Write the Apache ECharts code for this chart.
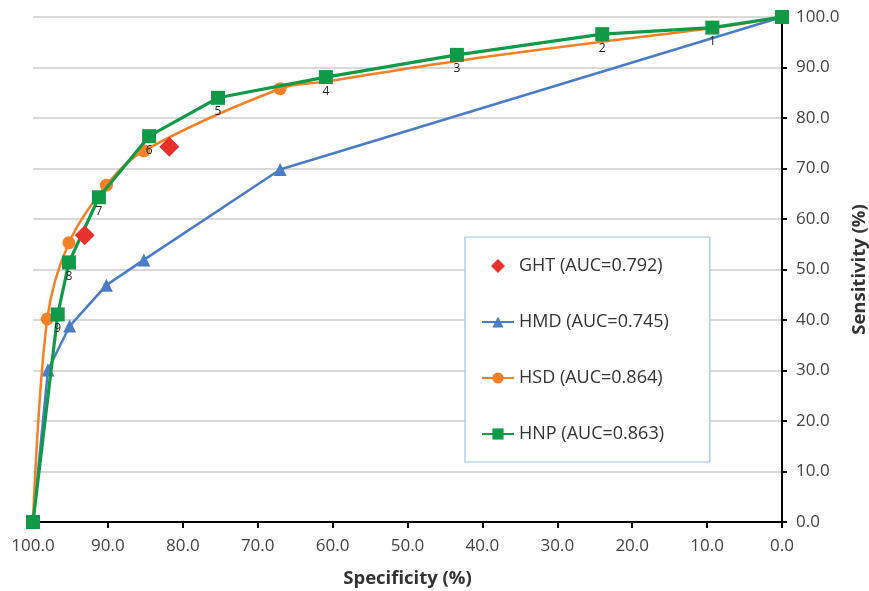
<!DOCTYPE html>
<html>
<head>
<meta charset="utf-8">
<script src="https://cdn.jsdelivr.net/npm/echarts@6/dist/echarts.min.js"></script>
<style>html,body{margin:0;padding:0;background:#fff;}#chart{width:869px;height:591px;}</style>
</head>
<body>
<div id="chart"></div>
<script>
// Data (specificity %, sensitivity %)
var ghtSpec = [93.1, 81.8];
var ghtSens = [56.8, 74.3];

var hmdSpec = [100, 98.0, 95.1, 90.2, 85.2, 67.0, 0];
var hmdSens = [0, 30.1, 38.8, 46.9, 51.9, 69.8, 100];

var hsdSpec = [100, 98.1, 95.2, 90.2, 85.2, 67.0, 60.9, 43.4, 24.0, 9.3, 0];
var hsdSens = [0, 40.2, 55.3, 66.7, 73.5, 85.8, 87.2, 91.3, 95.1, 97.8, 100];
var hsdMarker = [false, true, true, true, true, true, false, false, false, false, false];

var hnpSpec = [100, 96.7, 95.2, 91.2, 84.5, 75.3, 60.9, 43.4, 24.0, 9.3, 0];
var hnpSens = [0, 41.1, 51.4, 64.3, 76.4, 84.0, 88.1, 92.5, 96.6, 97.9, 100];
var hnpLabels = ['', '9', '8', '7', '6', '5', '4', '3', '2', '1', ''];

var seriesNames = ['GHT (AUC=0.792)', 'HMD (AUC=0.745)', 'HSD (AUC=0.864)', 'HNP (AUC=0.863)'];
var xAxisName = 'Specificity (%)';
var yAxisName = 'Sensitivity (%)';

function pairs(xs, ys) { return xs.map(function (x, i) { return [x, ys[i]]; }); }

var FONT = 'Open Sans';
var chart = echarts.init(document.getElementById('chart'));
chart.setOption({
  animation: false,
  backgroundColor: '#fff',
  textStyle: { fontFamily: FONT },
  grid: { left: 33, right: 87, top: 17, bottom: 69, containLabel: false, outerBoundsMode: 'none' },
  legend: {
    orient: 'vertical',
    left: 465, top: 237,
    padding: [20, 41, 19, 16],
    itemGap: 38,
    itemWidth: 32, itemHeight: 14,
    backgroundColor: '#fff',
    borderColor: '#9DC3E6', borderWidth: 1.2,
    textStyle: { fontFamily: FONT, fontSize: 18, color: '#333' },
    data: [
      { name: seriesNames[0], icon: 'path://M0,-1L1,0L0,1L-1,0Z', itemStyle: { color: '#E8302D' } },
      seriesNames[1], seriesNames[2], seriesNames[3]
    ]
  },
  xAxis: {
    type: 'value', inverse: true, min: 0, max: 100, interval: 10,
    name: xAxisName, nameLocation: 'middle', nameGap: 47,
    nameTextStyle: { fontFamily: FONT, fontSize: 18.5, fontWeight: 'bold', color: '#333' },
    axisLine: { onZero: false, lineStyle: { color: '#000', width: 2 } },
    axisTick: { show: true, length: 6, lineStyle: { color: '#000', width: 2 } },
    axisLabel: { fontFamily: FONT, fontSize: 17, color: '#444', margin: 16, formatter: function (v) { return v.toFixed(1); } },
    splitLine: { show: false }
  },
  yAxis: {
    type: 'value', position: 'right', min: 0, max: 100, interval: 10,
    name: yAxisName, nameLocation: 'middle', nameGap: 67, nameRotate: 90,
    nameTextStyle: { fontFamily: FONT, fontSize: 18.5, fontWeight: 'bold', color: '#333' },
    axisLine: { show: true, onZero: false, lineStyle: { color: '#000', width: 2 } },
    axisTick: { show: true, length: 5, lineStyle: { color: '#000', width: 2 } },
    axisLabel: { fontFamily: FONT, fontSize: 17, color: '#444', margin: 14, formatter: function (v) { return v.toFixed(1); } },
    splitLine: { show: true, lineStyle: { color: '#cccccc', width: 1.5 } }
  },
  series: [
    {
      name: seriesNames[0], type: 'scatter',
      symbol: 'diamond', symbolSize: 20,
      itemStyle: { color: '#E8302D', opacity: 1 },
      z: 5,
      data: pairs(ghtSpec, ghtSens)
    },
    {
      name: seriesNames[1], type: 'line',
      symbol: 'triangle', symbolSize: 13, showAllSymbol: true,
      lineStyle: { color: '#4A7CC8', width: 2.5 },
      itemStyle: { color: '#4A7CC8' },
      z: 2,
      data: pairs(hmdSpec, hmdSens)
    },
    {
      name: seriesNames[2], type: 'line', smooth: 0.35,
      symbol: 'circle', symbolSize: 13, showAllSymbol: true,
      lineStyle: { color: '#F58025', width: 2.5 },
      itemStyle: { color: '#F58025' },
      z: 3,
      data: hsdSpec.map(function (x, i) {
        return hsdMarker[i] ? { value: [x, hsdSens[i]] } : { value: [x, hsdSens[i]], symbolSize: 0 };
      })
    },
    {
      name: seriesNames[3], type: 'line',
      symbol: 'rect', symbolSize: 14, showAllSymbol: true,
      lineStyle: { color: '#0F9A48', width: 3.2 },
      itemStyle: { color: '#0F9A48' },
      z: 4,
      label: {
        show: true, position: 'bottom', distance: 1,
        fontFamily: FONT, fontSize: 12, color: '#222',
        formatter: function (p) { return hnpLabels[p.dataIndex]; }
      },
      data: pairs(hnpSpec, hnpSens)
    }
  ]
});
</script>
</body>
</html>
